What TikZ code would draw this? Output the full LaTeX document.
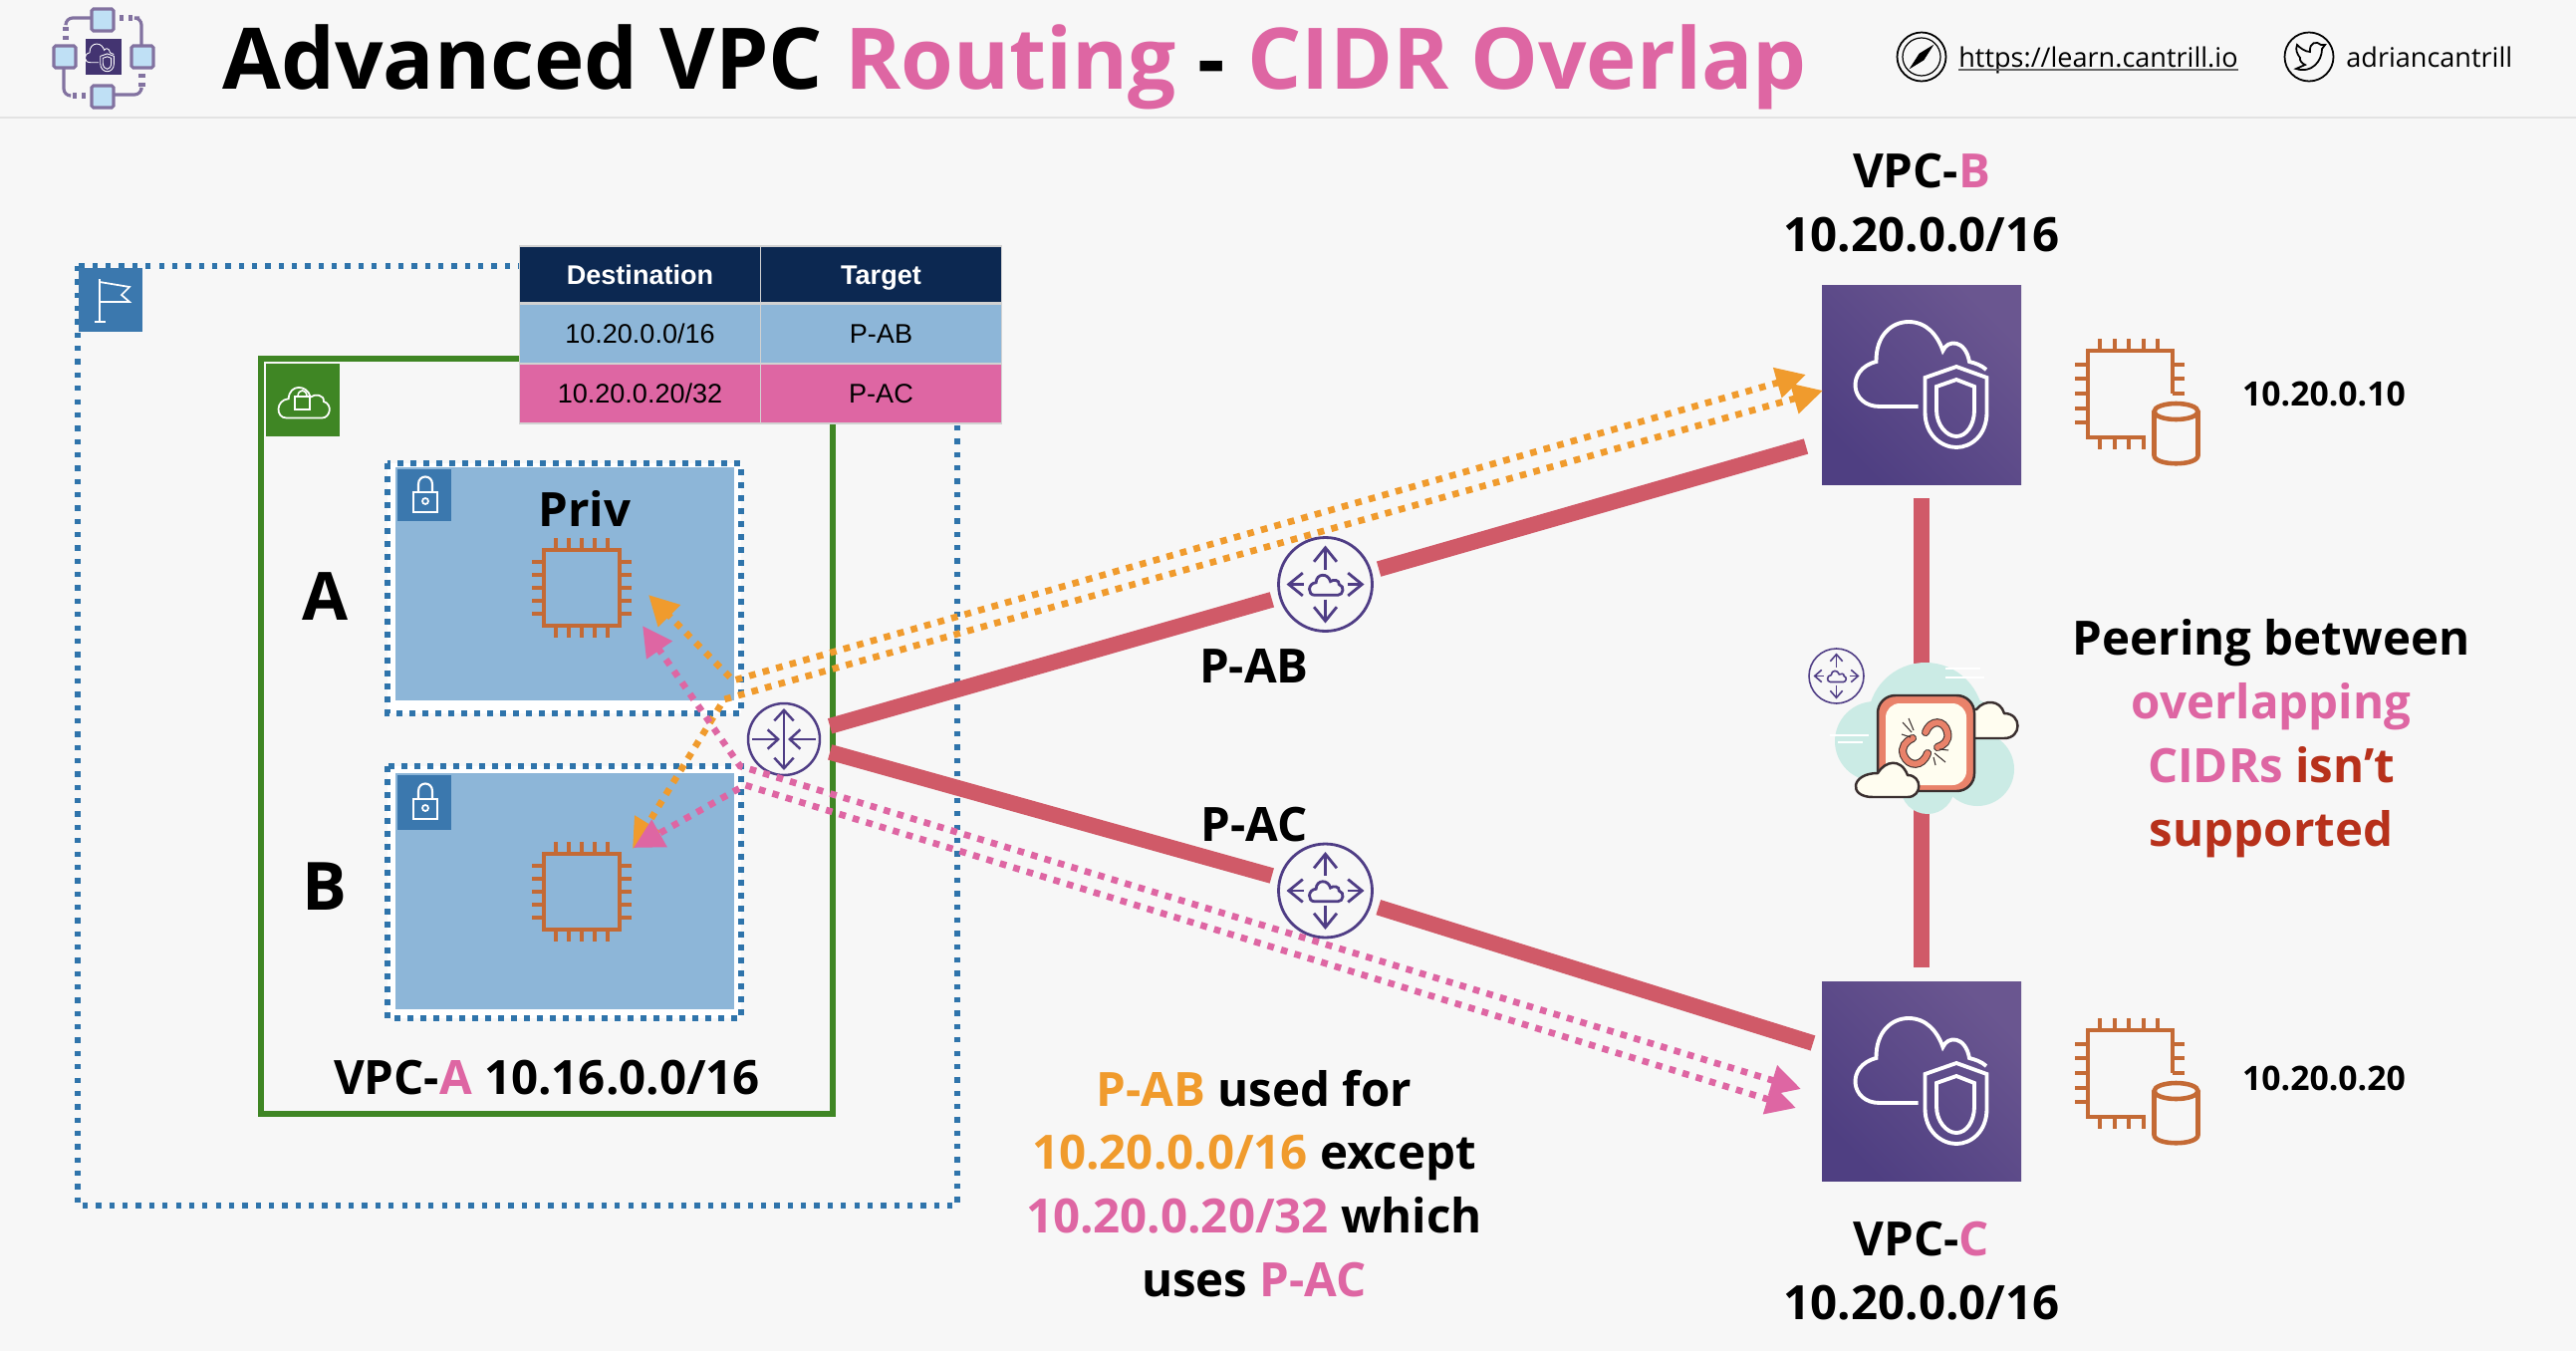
\documentclass[tikz,border=0pt]{standalone}
\usepackage{fontspec}
\setmainfont{Open Sans}
\newfontfamily\tablefont{Liberation Sans}
\usetikzlibrary{arrows.meta}
\definecolor{pagebg}{HTML}{F7F7F7}
\definecolor{pinktxt}{HTML}{DE66A3}
\definecolor{orangetxt}{HTML}{F09B2D}
\definecolor{browntxt}{HTML}{B7311B}
\definecolor{regionblue}{HTML}{2F74AB}
\definecolor{tagblue}{HTML}{3B78AE}
\definecolor{vpcgreen}{HTML}{3F8624}
\definecolor{subnetblue}{HTML}{8DB6D8}
\definecolor{chipbrown}{HTML}{C46A35}
\definecolor{routerpurple}{HTML}{4F3D85}
\definecolor{linkred}{HTML}{D05A68}
\definecolor{navy}{HTML}{0C2851}
\definecolor{logoline}{HTML}{8272A0}
\definecolor{logoblue}{HTML}{BFE0F5}
\definecolor{mint}{HTML}{CBEBE5}
\definecolor{cream}{HTML}{FFFDF0}
\definecolor{salmon}{HTML}{E9826A}
\definecolor{inkdark}{HTML}{3A2F2F}
\definecolor{vpcdark}{HTML}{4F3F82}
\definecolor{vpclight}{HTML}{6A5690}
\tikzset{
  txt/.style={inner sep=0pt,font=\bfseries\fontsize{27}{36.4}\selectfont,align=center},
  smalltxt/.style={inner sep=0pt,font=\bfseries\fontsize{19.2}{24}\selectfont},
  toptxt/.style={inner sep=0pt,font=\fontsize{15.4}{20}\selectfont,anchor=base west},
  regionbox/.style={draw=regionblue,line width=3pt,dash pattern=on 3pt off 4.6pt},
  subnetbox/.style={draw=regionblue,line width=3.2pt,dash pattern=on 3.2pt off 4.2pt},
  vpcbox/.style={draw=vpcgreen,line width=3pt},
  tagsq/.style={fill=tagblue},
  subnetfill/.style={fill=subnetblue},
  thead/.style={rectangle,minimum width=4.85cm,minimum height=1.14cm,inner sep=0pt,text height=11pt,text depth=0pt,fill=navy,draw=pagebg!85!black,line width=.6pt,text=white,font=\tablefont\bfseries\fontsize{15.4}{18}\selectfont},
  tcell/.style={rectangle,minimum width=4.85cm,minimum height=1.2cm,inner sep=0pt,text height=11pt,text depth=0pt,draw=pagebg!85!black,line width=.6pt,font=\tablefont\fontsize{15.4}{18}\selectfont},
  redlink/.style={draw=linkred,line width=9pt},
  orangedots/.style={draw=orangetxt,line width=3.8pt,dash pattern=on 3.8pt off 4.2pt,{Triangle[length=17pt,width=17pt]}-{Triangle[length=17pt,width=17pt]}},
  pinkdots/.style={draw=pinktxt,line width=3.8pt,dash pattern=on 3.8pt off 4.2pt,{Triangle[length=17pt,width=17pt]}-{Triangle[length=17pt,width=17pt]}},
  routerring/.style={circle,draw=routerpurple,line width=1.6pt,fill=pagebg,minimum size=#1,inner sep=0pt},
  vpcsq/.style={rectangle,minimum width=4cm,minimum height=4.02cm,inner sep=0pt,shade,bottom color=vpcdark,top color=vpclight,shading angle=-45,outer sep=0pt},
  cloudshape/.pic={\draw (-30,30) -- (35,30) .. controls (50,30) and (55,5) .. (38,0) .. controls (40,-12) and (22,-15) .. (14,-8) .. controls (8,-32) and (-25,-32) .. (-26,-5) .. controls (-50,-3) and (-50,30) .. (-30,30) -- cycle;},
  chipicon/.pic={
    \draw[chipbrown,line width=2.6pt] (-38,-38) rectangle (38,38);
    \foreach \t in {-26,-13,0,13,26} {
      \draw[chipbrown,line width=2pt] (\t,-38) -- (\t,-50) (\t,38) -- (\t,50) (-38,\t) -- (-50,\t) (38,\t) -- (50,\t);
    }
  },
  instanceicon/.pic={
    \draw[chipbrown,line width=2.6pt] (58,87) -- (0,87) -- (0,0) -- (85,0) -- (85,43);
    \foreach \t in {12,27,41,56,70} \draw[chipbrown,line width=2.2pt] (\t,0) -- (\t,-12);
    \foreach \t in {12,27,41,56} \draw[chipbrown,line width=2.2pt] (\t,87) -- (\t,99);
    \foreach \t in {14,28,43,58,72} \draw[chipbrown,line width=2.2pt] (0,\t) -- (-13,\t);
    \foreach \t in {14,28,43} \draw[chipbrown,line width=2.2pt] (85,\t) -- (97,\t);
    \draw[chipbrown,line width=2.6pt] (88.5,61) ellipse (22 and 8);
    \draw[chipbrown,line width=2.6pt] (66.5,61) -- (66.5,105) .. controls (66.5,116) and (110.5,116) .. (110.5,105) -- (110.5,61);
  },
  shieldicon/.pic={
    \draw[white] (-3.5,21.5) -- (-42,21.5) .. controls (-72,21.5) and (-76,-16) .. (-45.5,-23.5) .. controls (-46,-50) and (-30,-63.5) .. (-13,-63.5) .. controls (5,-63.5) and (16,-50) .. (21.4,-34.5) .. controls (26,-46) and (44,-46) .. (48,-23.5) .. controls (54,-22) and (60,-20) .. (65,-15.5);
    \draw[white] (35,-18.5) -- (65.5,-7.5) -- (65.5,27.5) .. controls (65.5,50) and (50,62.5) .. (35,62.5) .. controls (20,62.5) and (3.5,50) .. (3.5,27.5) -- (3.5,-7.5) -- cycle;
    \draw[white] (35,-5.5) -- (53,1.5) -- (53,25) .. controls (53,40) and (45,51.5) .. (35,51.5) .. controls (25,51.5) and (15,40) .. (15,25) -- (15,1.5) -- cycle;
  },
  lockicon/.pic={
    \draw[white,line width=1.2pt] (-12,-6) rectangle (12,14);
    \draw[white,line width=1.2pt] (-7,-6) -- (-7,-14) .. controls (-7,-24) and (7,-24) .. (7,-14) -- (7,-6);
    \draw[white,line width=1pt] (0,3) circle (3);
  },
  peerarrows/.pic={
    \pic[scale=.36,draw=routerpurple,line width=1.6pt] {cloudshape};
    \draw[routerpurple,line width=1.6pt,-{Straight Barb[length=8pt,width=13pt]}] (0,-15) -- (0,-39);
    \draw[routerpurple,line width=1.6pt,-{Straight Barb[length=8pt,width=13pt]}] (0,15) -- (0,39);
    \draw[routerpurple,line width=1.6pt,-{Straight Barb[length=8pt,width=13pt]}] (22,0) -- (39,0);
    \draw[routerpurple,line width=1.6pt,-{Straight Barb[length=8pt,width=13pt]}] (-22,0) -- (-39,0);
  },
  gwarrows/.pic={
    \draw[routerpurple,line width=1.4pt,{Straight Barb[length=6pt,width=11pt]}-{Straight Barb[length=6pt,width=11pt]}] (0,-31) -- (0,31);
    \draw[routerpurple,line width=1.4pt,-{Straight Barb[length=6pt,width=11pt]}] (-32,0) -- (-4,0);
    \draw[routerpurple,line width=1.4pt,-{Straight Barb[length=6pt,width=11pt]}] (32,0) -- (4,0);
  }
}
\begin{document}
\begin{tikzpicture}[x=0.02cm,y=-0.02cm]
\fill[pagebg] (0,0) rectangle (2586,1356);
\useasboundingbox (0,0) rectangle (2586,1356);
\draw[pagebg!92!black,line width=1.2pt] (0,118) -- (2586,118);

% header
\foreach \a/\b in {92/9,132/46,92/86,54/46} {
  \draw[logoline,line width=1.8pt,rounded corners=1pt,fill=logoblue] (\a,\b) rectangle ++(22,22);
}
\draw[logoline,line width=1.8pt,rounded corners=4pt] (92,18) -- (66,18) -- (66,24);
\draw[logoline,line width=1.8pt] (63,29) -- (69,29) (63,38) -- (69,38) (122,15) -- (122,21) (131,15) -- (131,21);
\draw[logoline,line width=1.8pt,rounded corners=4pt] (140,18) -- (142,18) -- (142,46);
\draw[logoline,line width=1.8pt] (139,76) -- (146,76) (139,85) -- (146,85) (75,93) -- (75,99) (84,93) -- (84,99);
\draw[logoline,line width=1.8pt,rounded corners=4pt] (142,90) -- (142,95) -- (114,95);
\draw[logoline,line width=1.8pt,rounded corners=4pt] (64,68) -- (64,96) -- (70,96);
\node[rectangle,fill=routerpurple!85!black,minimum size=.72cm,inner sep=0pt] (logo) at (104,57) {};
\pic[scale=.22,line width=.5pt] at (100,58) {shieldicon};

\node[inner sep=0pt,anchor=base west,font=\bfseries\fontsize{48.55}{52}\selectfont] (title) at (223,89) {Advanced VPC \textcolor{pinktxt}{Routing} - \textcolor{pinktxt}{CIDR Overlap}};

\node[circle,draw=black,line width=1pt,minimum size=.98cm,inner sep=0pt] (compass) at (1929,57) {};
\draw[black,line width=.7pt] (compass) circle (19);
\draw[black,fill=black,line width=.5pt] (1918,68) -- (1927,54) -- (1940,46) -- (1931,60) -- cycle;
\node[toptxt] (url) at (1966,67) {https://learn.cantrill.io};
\draw[black!60,line width=1pt] ([yshift=-1.6pt]url.base west) -- ([yshift=-1.6pt]url.base east);
\node[circle,draw=black,line width=1pt,minimum size=.98cm,inner sep=0pt] (tw) at (2318,57) {};
\draw[black,line width=1pt] (2305,69) .. controls (2320,74) and (2331,62) .. (2331,49) -- (2334,45) -- (2330,45) .. controls (2326,41) and (2318,42) .. (2319,52) .. controls (2314,52) and (2309,48) .. (2306,45) .. controls (2304,50) and (2306,54) .. (2309,58) .. controls (2308,60) and (2311,64) .. (2314,65) -- cycle;
\node[toptxt] (handle) at (2355,67) {adriancantrill};

% region and vpc
\draw[regionbox] (78,267) rectangle (961,1210);
\fill[tagsq] (79,269) rectangle (143,333);
\draw[white,line width=1pt] (100,280) -- (100,323) (95,323) -- (106,323);
\draw[white,line width=1pt] (100,283) -- (130,288) -- (122,296) -- (130,303) -- (100,303);
\draw[vpcbox] (262,360) rectangle (836,1118);
\fill[vpcgreen] (267,365) rectangle (341,438);
\pic[scale=.55,draw=white,line width=1pt] at (304,403) {cloudshape};
\draw[white,line width=.9pt] (296,398) rectangle (311,411) (299,398) .. controls (299,390) and (308,390) .. (308,398);

% subnets
\fill[white] (389,465) rectangle (744,716);
\fill[white] (389,769) rectangle (744,1022);
\fill[subnetfill] (397,469) rectangle (737,703);
\draw[subnetbox] (389,465) rectangle (744,716);
\fill[tagsq] (399,471) rectangle (453,523);
\pic at (427,500) {lockicon};
\fill[subnetfill] (397,776) rectangle (737,1013);
\draw[subnetbox] (389,769) rectangle (744,1022);
\fill[tagsq] (399,778) rectangle (453,833);
\pic at (427,808) {lockicon};
\node[txt] (priv) at (587,510) {Priv};
\pic (chipa) at (584,590) {chipicon};
\pic (chipb) at (584,895) {chipicon};
\node[txt,font=\bfseries\fontsize{38}{40}\selectfont] (sna) at (327,599) {A};
\node[txt,font=\bfseries\fontsize{38}{40}\selectfont] (snb) at (326,890) {B};
\node[txt] (vpca) at (549,1082) {VPC-\textcolor{pinktxt}{A} 10.16.0.0/16};

% route table
\node[thead] (hdest) at (642.5,275.5) {Destination};
\node[thead] (htarget) at (884.5,275.5) {Target};
\node[tcell,fill=subnetblue] (d1) at (642.5,335) {10.20.0.0/16};
\node[tcell,fill=subnetblue] (t1) at (884.5,335) {P-AB};
\node[tcell,fill=pinktxt] (d2) at (642.5,395) {10.20.0.20/32};
\node[tcell,fill=pinktxt] (t2) at (884.5,395) {P-AC};

% vpc squares
\node[vpcsq] (vpcb) at (1929,386.5) {};
\node[vpcsq] (vpcc) at (1929,1085.5) {};
\pic[line width=2.2pt] at (vpcb) {shieldicon};
\pic[line width=2.2pt] at (vpcc) {shieldicon};
\pic (insb) at (2096,352) {instanceicon};
\pic (insc) at (2096,1034) {instanceicon};
\node[smalltxt] (ipb) at (2333,395) {10.20.0.10};
\node[smalltxt] (ipc) at (2333,1082) {10.20.0.20};
\node[txt] (lblb) at (1929,204) {VPC-\textcolor{pinktxt}{B}\\10.20.0.0/16};
\node[txt] (lblc) at (1929,1276) {VPC-\textcolor{pinktxt}{C}\\10.20.0.0/16};

% routers and links
\node[routerring=1.44cm,line width=1.4pt,outer sep=6.8pt] (gw) at (787,742) {};
\pic at (gw) {gwarrows};
\node[routerring=1.88cm,outer sep=5pt] (pab) at (1330.5,586.5) {};
\node[routerring=1.88cm,outer sep=5pt] (pac) at (1330.5,894) {};
\pic at (pab) {peerarrows};
\pic at (pac) {peerarrows};
\coordinate (bend) at (1813,448);
\coordinate (cend) at (1820,1047);
\coordinate (vtop) at (1929,500);
\coordinate (vbot) at (1929,971);
\draw[redlink] (gw) -- (pab);
\draw[redlink] (pab) -- (bend);
\draw[redlink] (gw) -- (pac);
\draw[redlink] (pac) -- (cend);
\draw[redlink] (vtop) -- (vbot);
\node[txt] (lblab) at (1259,668) {P-AB};
\node[txt] (lblac) at (1259,828) {P-AC};

% traffic
\coordinate (ob1) at (1813,376);
\coordinate (ob2) at (1830,392);
\coordinate (oj1) at (736,683);
\coordinate (oj2) at (727,702);
\coordinate (oa) at (651,597);
\coordinate (ob) at (635,852);
\draw[orangedots] (ob1) -- (oj1) -- (oa);
\draw[orangedots] (ob2) -- (oj2) -- (ob);
\coordinate (pc1) at (1808,1093);
\coordinate (pc2) at (1803,1112);
\coordinate (pj1) at (743,769);
\coordinate (pj2) at (748,788);
\coordinate (pa) at (645,628);
\coordinate (pb) at (636,851);
\draw[pinkdots] (pc1) -- (pj1) -- (pa);
\draw[pinkdots] (pc2) -- (pj2) -- (pb);

% broken peering
\fill[mint] (1933,723) circle (58) (1882,744) circle (40) (1985,772) circle (37) (1935,790) circle (27) (1975,730) circle (30) (1890,772) circle (22);
\draw[white,line width=1pt] (1953,671) -- (1988,671) (1953,680) -- (1992,680) (1837,738) -- (1876,738) (1845,745) -- (1870,745);
\draw[inkdark,line width=1.4pt,fill=cream] (1981,741) -- (2012,741) .. controls (2030,741) and (2030,716) .. (2012,716) .. controls (2008,702) and (1992,702) .. (1984,712) -- (1978,712) -- cycle;
\draw[inkdark,line width=1.4pt,fill=salmon,rounded corners=10pt] (1885,698) rectangle (1982,794);
\fill[cream,rounded corners=8pt] (1893,706) rectangle (1974,788);
\draw[inkdark,line width=4.6pt,line cap=round] (1933,735) .. controls (1938,722) and (1952,722) .. (1955,735) .. controls (1957,744) and (1951,748) .. (1945,750);
\draw[salmon,line width=3.4pt,line cap=round] (1933,735) .. controls (1938,722) and (1952,722) .. (1955,735) .. controls (1957,744) and (1951,748) .. (1945,750);
\draw[inkdark,line width=4.6pt,line cap=round] (1935,756) .. controls (1930,770) and (1916,770) .. (1911,758) .. controls (1908,750) and (1913,744) .. (1920,741);
\draw[salmon,line width=3.4pt,line cap=round] (1935,756) .. controls (1930,770) and (1916,770) .. (1911,758) .. controls (1908,750) and (1913,744) .. (1920,741);
\draw[inkdark,line width=.6pt] (1910,725) -- (1919,735) (1916,721) -- (1921,733) (1909,737) -- (1918,740) (1942,756) -- (1953,765) (1947,752) -- (1956,753) (1941,760) -- (1943,768);
\draw[inkdark,line width=1.4pt,fill=cream] (1880,800) -- (1915,800) .. controls (1930,800) and (1930,778) .. (1915,778) .. controls (1908,760) and (1892,764) .. (1885,776) .. controls (1858,776) and (1855,800) .. (1880,800) -- cycle;
\node[routerring=1.1cm,line width=.9pt,fill=none] (pdx) at (1843.5,678.5) {};
\pic[scale=.2,draw=routerpurple,line width=.9pt] at (pdx) {cloudshape};
\foreach \u/\v in {-1/0,1/0,0/-1,0/1} {
  \draw[routerpurple,line width=.9pt,-{Straight Barb[length=4pt,width=7pt]}] (1843.5+13*\u,678.5+9*\v) -- (1843.5+23*\u,678.5+23*\v);
}

% notes
\node[txt] (peernote) at (2280,741) {Peering between\\\textcolor{pinktxt}{overlapping}\\\textcolor{pinktxt}{CIDRs} \textcolor{browntxt}{isn't}\\\textcolor{browntxt}{supported}};
\node[txt] (usenote) at (1259,1188) {\textcolor{orangetxt}{P-AB} used for\\\textcolor{orangetxt}{10.20.0.0/16} except\\\textcolor{pinktxt}{10.20.0.20/32} which\\uses \textcolor{pinktxt}{P-AC}};
\end{tikzpicture}
\end{document}
